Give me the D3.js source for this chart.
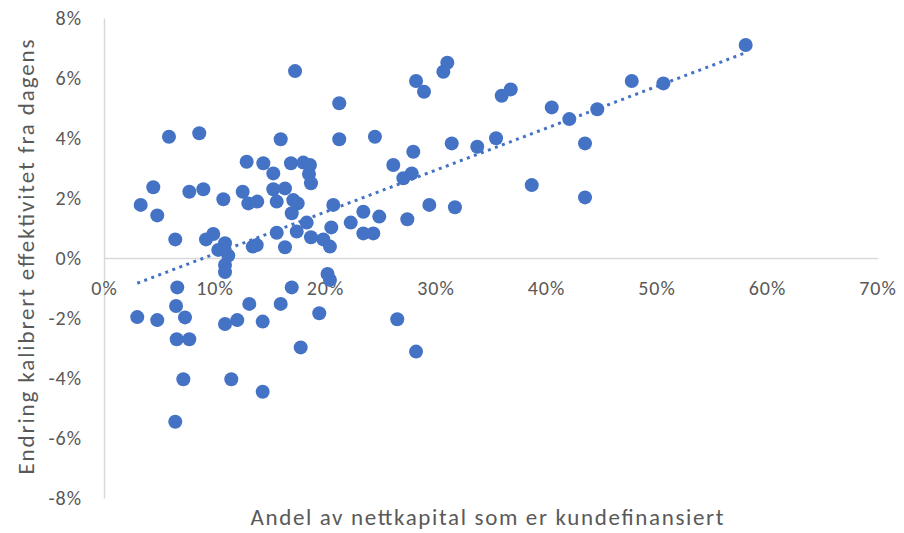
<!DOCTYPE html>
<html>
<head>
<meta charset="utf-8">
<script src="https://cdn.jsdelivr.net/npm/d3@7"></script>
<style>
  body { margin: 0; background: #fff; }
  svg text { font-family: Carlito, Lato, "Open Sans", sans-serif; fill: #595959; }
</style>
</head>
<body>
<div id="chart"></div>
<script>
// andel kundefinansiert (%), endring effektivitet (%)
var xVals = [3.01, 3.32, 4.46, 4.82, 4.82, 5.88, 6.45, 6.63, 6.52, 6.58, 6.45, 7.18, 7.33, 7.72, 7.72,
             8.62, 8.99, 9.23, 9.89, 10.8, 10.34, 10.95, 11.25, 10.95, 10.95, 10.95, 11.52, 12.06, 12.55, 12.91,
             13.06, 13.15, 13.46, 13.87, 13.82, 14.36, 14.36, 14.42, 15.32, 15.32, 15.63, 15.63, 15.99, 15.99, 16.38,
             16.38, 16.92, 16.99, 17.13, 17.53, 16.99, 17.29, 17.44, 17.8, 18.04, 18.64, 18.55, 18.73, 18.34, 18.73,
             19.48, 19.85, 20.45, 20.23, 20.45, 20.57, 20.75, 21.29, 21.29, 22.33, 23.47, 23.47, 24.37, 24.52, 24.91,
             26.18, 26.54, 27.09, 27.45, 27.85, 27.99, 28.24, 28.24, 28.96, 29.44, 30.71, 31.07, 31.47, 31.76, 33.78,
             35.48, 35.99, 36.81, 38.71, 40.52, 42.11, 43.53, 43.53, 44.64, 47.76, 50.62, 58.07];
var yVals = [-1.97, 1.77, 2.36, 1.42, -2.07, 4.04, 0.62, -0.98, -1.6, -2.71, -5.46, -4.04, -1.98, 2.21, -2.71,
             4.16, 2.29, 0.62, 0.8, 1.96, 0.27, 0.49, 0.08, -0.23, -0.47, -2.2, -4.04, -2.07, 2.21, 3.21,
             1.82, -1.53, 0.38, 1.88, 0.43, -2.12, -4.46, 3.16, 2.82, 2.29, 1.88, 0.84, 3.96, -1.53, 2.32,
             0.36, 3.16, -0.98, 1.93, 1.82, 1.49, 6.23, 0.88, -2.98, 3.18, 3.1, 2.8, 2.49, 1.18, 0.69,
             -1.84, 0.62, 0.38, -0.53, -0.73, 1.02, 1.77, 5.16, 3.96, 1.18, 1.54, 0.82, 0.82, 4.04, 1.38,
             3.1, -2.04, 2.66, 1.29, 2.82, 3.54, 5.9, -3.12, 5.54, 1.77, 6.21, 6.51, 3.82, 1.69, 3.71,
             3.99, 5.41, 5.62, 2.43, 5.02, 4.63, 3.82, 2.02, 4.96, 5.9, 5.82, 7.1];
var xTicks = [0, 10, 20, 30, 40, 50, 60, 70];
var yTicks = [-8, -6, -4, -2, 0, 2, 4, 6, 8];

var xTitle = 'Andel av nettkapital som er kundefinansiert';
var yTitle = 'Endring kalibrert effektivitet fra dagens';

var w = 904, h = 533;
var color = '#4472C4';
var axisColor = '#D9D9D9';

var svg = d3.select('#chart').append('svg')
            .attr('width', w)
            .attr('height', h);

var xScale = d3.scaleLinear().domain([0, 70]).range([104, 877.5]);
var yScale = d3.scaleLinear().domain([-8, 8]).range([498, 18]);

var fmt = function(d) { return d + '%'; };

// y axis
var yAxis = d3.axisLeft(yScale).tickValues(yTicks).tickSize(0).tickPadding(22).tickFormat(fmt);
var gy = svg.append('g').attr('transform', 'translate(' + xScale(0) + ',0)').call(yAxis);
gy.select('.domain').attr('stroke', axisColor).attr('stroke-width', 1.5);
gy.selectAll('text').attr('font-size', 20).attr('letter-spacing', 1).style('fill', '#595959');

// x axis at y = 0
var xAxis = d3.axisBottom(xScale).tickValues(xTicks).tickSize(0).tickPadding(23).tickFormat(fmt);
var gx = svg.append('g').attr('transform', 'translate(0,' + yScale(0) + ')').call(xAxis);
gx.select('.domain').attr('stroke', axisColor).attr('stroke-width', 1.5);
gx.selectAll('text').attr('font-size', 20).attr('letter-spacing', 1).style('fill', '#595959');

// points
var pts = xVals.map(function(x, i) { return {x: x, y: yVals[i]}; });
svg.append('g').selectAll('circle')
   .data(pts)
   .enter()
   .append('circle')
   .attr('cx', function(d) { return xScale(d.x); })
   .attr('cy', function(d) { return yScale(d.y); })
   .attr('r', 7)
   .attr('fill', color);

// lineaer trend (minste kvadraters metode)
var n = pts.length;
var mx = d3.mean(xVals), my = d3.mean(yVals);
var sxy = 0, sxx = 0;
for (var i = 0; i < n; i++) {
  sxy += (xVals[i] - mx) * (yVals[i] - my);
  sxx += (xVals[i] - mx) * (xVals[i] - mx);
}
var slope = sxy / sxx;
var icept = my - slope * mx;
var ext = d3.extent(xVals);
var trend = ext.map(function(x) { return {x: x, y: icept + slope * x}; });

var line = d3.line()
             .x(function(d) { return xScale(d.x); })
             .y(function(d) { return yScale(d.y); });
svg.append('path')
   .datum(trend)
   .attr('fill', 'none')
   .attr('stroke', color)
   .attr('stroke-width', 3)
   .attr('stroke-dasharray', '3 4.5')
   .attr('d', line);

// titles
svg.append('text')
   .attr('x', 487).attr('y', 525)
   .attr('text-anchor', 'middle')
   .attr('font-size', 23)
   .attr('textLength', 473)
   .attr('lengthAdjust', 'spacing')
   .text(xTitle);

svg.append('text')
   .attr('transform', 'translate(34,257) rotate(-90)')
   .attr('text-anchor', 'middle')
   .attr('font-size', 23)
   .attr('textLength', 435)
   .attr('lengthAdjust', 'spacing')
   .text(yTitle);
</script>
</body>
</html>
